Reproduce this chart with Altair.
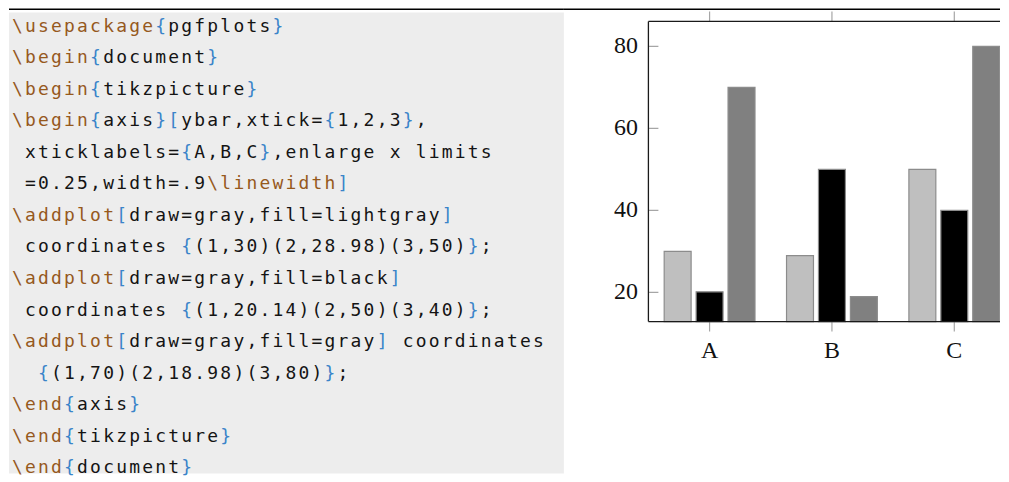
import altair as alt
import pandas as pd

# ---------------- data ----------------
categories = ["A", "B", "C"]
cat_pos = [1, 2, 3]
series_names = ["lightgray", "black", "gray"]
lightgray_vals = [30, 28.98, 50]
black_vals = [20.14, 50, 40]
gray_vals = [70, 18.98, 80]
y_ticks = [20, 40, 60, 80]

code_lines = [
    r"\usepackage{pgfplots}",
    r"\begin{document}",
    r"\begin{tikzpicture}",
    r"\begin{axis}[ybar,xtick={1,2,3},",
    r" xticklabels={A,B,C},enlarge x limits",
    r" =0.25,width=.9\linewidth]",
    r"\addplot[draw=gray,fill=lightgray]",
    r" coordinates {(1,30)(2,28.98)(3,50)};",
    r"\addplot[draw=gray,fill=black]",
    r" coordinates {(1,20.14)(2,50)(3,40)};",
    r"\addplot[draw=gray,fill=gray] coordinates",
    r"  {(1,70)(2,18.98)(3,80)};",
    r"\end{axis}",
    r"\end{tikzpicture}",
    r"\end{document}",
]

# ---------------- layout / style ----------------
H = 466
W_CODE, W_BAR = 556, 437
CHAR_W, X0 = 13.05, 8.4       # code grid (px)
ROW_H, Y0 = 31.6, 18.3
CMD_C, BRACE_C, TEXT_C = "#96591d", "#3a84c9", "#141414"
BOX_C = "#ededed"

X_LO, X_HI = 0.5, 3.5        # enlarge x limits = 0.25
YMIN, YMAX = 12.878, 86.102
A_PX, UNIT_PX = 146.0, 122.6
PLOT_TOP, PLOT_BOT = 13.0, 313.7
PY = (PLOT_BOT - PLOT_TOP) / (YMAX - YMIN)
TICK_PX = 10.0
BAR_OFF, BAR_HALF = 32.0 / UNIT_PX, 13.5 / UNIT_PX
TU, TV = TICK_PX / UNIT_PX, TICK_PX / PY
SERIF = "Liberation Serif"
LBL_SIZE = 24

x_scale = alt.Scale(domain=[1 - A_PX / UNIT_PX, 1 + (W_BAR - A_PX) / UNIT_PX], nice=False, zero=False)
y_scale = alt.Scale(domain=[YMIN - (H - PLOT_BOT) / PY, YMAX + PLOT_TOP / PY], nice=False, zero=False)

# ---------------- code listing ----------------
def classify(line):
    kinds = []
    i = 0
    while i < len(line):
        ch = line[i]
        if ch == "\\":
            kinds.append("cmd")
            i += 1
            while i < len(line) and line[i].isalpha():
                kinds.append("cmd")
                i += 1
            continue
        kinds.append("brace" if ch in "{}[]" else "plain")
        i += 1
    return kinds

rows = []
for r, line in enumerate(code_lines):
    kinds = classify(line)
    for c, ch in enumerate(line):
        if ch != " ":
            rows.append({"row": r, "col": c, "ch": ch, "kind": kinds[c]})
code_df = pd.DataFrame(rows)

one = pd.DataFrame({"k": [0]})


def top_rule(width):
    return alt.Chart(one).mark_rule(color="black", strokeWidth=1.5).encode(
        x=alt.value(0), x2=alt.value(width), y=alt.value(0.75)
    )


code_bg = alt.Chart(one).mark_rect(color=BOX_C).encode(
    x=alt.value(0), x2=alt.value(W_CODE), y=alt.value(4), y2=alt.value(H)
)
code_text = alt.Chart(code_df).mark_text(
    font="DejaVu Sans Mono", fontSize=18, align="center", baseline="middle"
).encode(
    x=alt.X("col:Q", scale=alt.Scale(domain=[-X0 / CHAR_W, (W_CODE - X0) / CHAR_W], nice=False, zero=False), axis=None),
    y=alt.Y("row:Q", scale=alt.Scale(domain=[-Y0 / ROW_H, (H - Y0) / ROW_H], reverse=True, nice=False, zero=False), axis=None),
    text="ch:N",
    color=alt.Color("kind:N", scale=alt.Scale(domain=["cmd", "brace", "plain"], range=[CMD_C, BRACE_C, TEXT_C]), legend=None),
)
code_panel = alt.layer(code_bg, top_rule(W_CODE), code_text).properties(width=W_CODE, height=H)

# ---------------- bar chart ----------------
bar_rows = []
for s, (name, vals) in enumerate(zip(series_names, [lightgray_vals, black_vals, gray_vals])):
    for cat, pos, v in zip(categories, cat_pos, vals):
        bar_rows.append({"cat": cat, "pos": pos, "sidx": s - 1, "series": name, "value": v})
bar_df = pd.DataFrame(bar_rows)

bars = alt.Chart(bar_df).transform_calculate(
    x0=f"datum.pos + datum.sidx * {BAR_OFF} - {BAR_HALF}",
    x1=f"datum.pos + datum.sidx * {BAR_OFF} + {BAR_HALF}",
).mark_rect(stroke="#8c8c8c", strokeWidth=1.2, clip=True).encode(
    x=alt.X("x0:Q", scale=x_scale, axis=None),
    x2="x1:Q",
    y=alt.Y("value:Q", scale=y_scale, axis=None),
    y2=alt.datum(YMIN),
    fill=alt.Fill("series:N", scale=alt.Scale(domain=series_names, range=["#bfbfbf", "#000000", "#808080"]), legend=None),
)

# frame (top, left, bottom; the right side lies beyond the window)
frame_df = pd.DataFrame({
    "xa": [X_LO, X_LO, X_LO], "xb": [X_HI, X_LO, X_HI],
    "ya": [YMAX, YMIN, YMIN], "yb": [YMAX, YMAX, YMIN],
})
frame = alt.Chart(frame_df).mark_rule(color="#1a1a1a", strokeWidth=1.3, clip=True).encode(
    x=alt.X("xa:Q", scale=x_scale, axis=None), x2="xb:Q",
    y=alt.Y("ya:Q", scale=y_scale, axis=None), y2="yb:Q",
)

tick_rows = []
for t in y_ticks:
    tick_rows.append({"xa": X_LO, "xb": X_LO + TU, "ya": t, "yb": t})
    tick_rows.append({"xa": X_HI - TU, "xb": X_HI, "ya": t, "yb": t})
for p in cat_pos:
    tick_rows.append({"xa": p, "xb": p, "ya": YMIN - TV, "yb": YMIN})
    tick_rows.append({"xa": p, "xb": p, "ya": YMAX, "yb": YMAX + TV})
ticks = alt.Chart(pd.DataFrame(tick_rows)).mark_rule(color="#a6a6a6", strokeWidth=1.2, clip=True).encode(
    x=alt.X("xa:Q", scale=x_scale, axis=None), x2="xb:Q",
    y=alt.Y("ya:Q", scale=y_scale, axis=None), y2="yb:Q",
)

ylab = alt.Chart(pd.DataFrame({"v": y_ticks, "label": [str(t) for t in y_ticks]})).mark_text(
    font=SERIF, fontSize=LBL_SIZE, align="right", baseline="middle", color="#111"
).encode(
    x=alt.datum(X_LO - 10.5 / UNIT_PX, scale=x_scale, axis=None),
    y=alt.Y("v:Q", scale=y_scale, axis=None),
    text="label:N",
)
xlab = alt.Chart(pd.DataFrame({"pos": cat_pos, "cat": categories})).mark_text(
    font=SERIF, fontSize=LBL_SIZE, align="center", baseline="alphabetic", color="#111"
).encode(
    x=alt.X("pos:Q", scale=x_scale, axis=None),
    y=alt.datum(YMIN - 36.6 / PY, scale=y_scale, axis=None),
    text="cat:N",
)

bar_panel = alt.layer(top_rule(W_BAR), bars, ticks, frame, ylab, xlab).properties(width=W_BAR, height=H)

chart = alt.hconcat(code_panel, bar_panel, spacing=0, bounds="flush").properties(
    padding=0
).configure_view(stroke=None)

chart.save("out.html", embed_options={"renderer": "svg", "actions": False})
